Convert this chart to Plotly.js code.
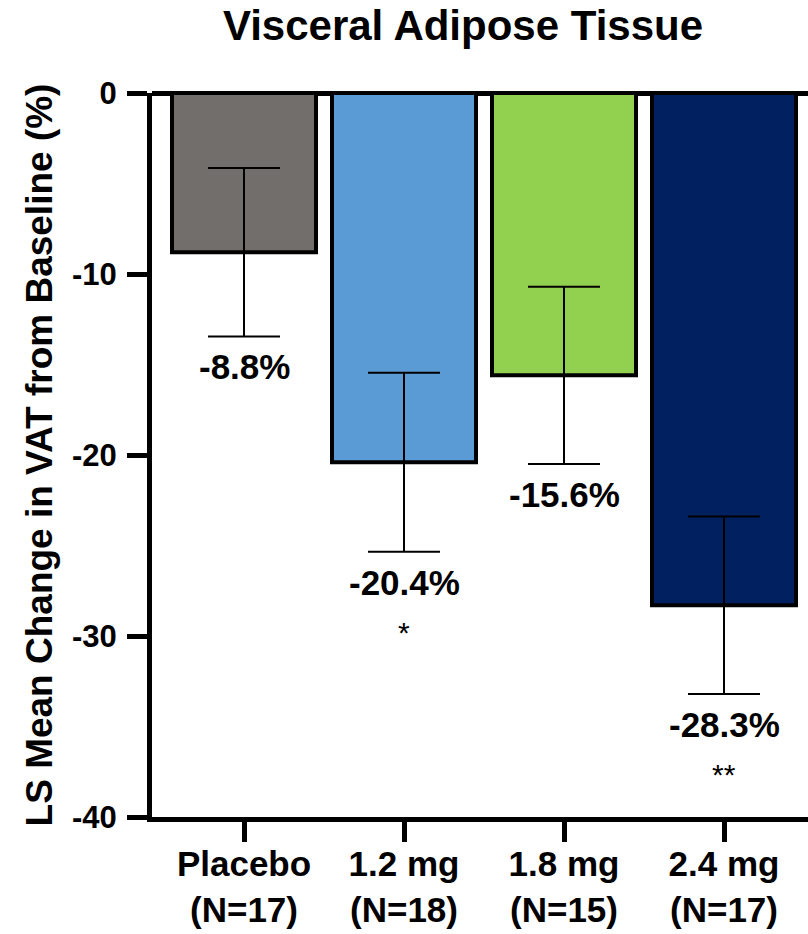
<!DOCTYPE html>
<html>
<head>
<meta charset="utf-8">
<script src="https://cdn.plot.ly/plotly-3.0.1.min.js"></script>
<style>html,body{margin:0;padding:0;background:#fff;}#chart{width:808px;height:934px;}</style>
</head>
<body>
<div id="chart"></div>
<script>
const categories = ['Placebo<br>(N=17)', '1.2 mg<br>(N=18)', '1.8 mg<br>(N=15)', '2.4 mg<br>(N=17)'];
const values = [-8.8, -20.4, -15.6, -28.3];
const errors = [4.65, 4.95, 4.9, 4.9];
const significance = ['', '*', '', '**'];
const barColors = ['#716e6c', '#5b9bd5', '#92d050', '#002060'];
const yTicks = [0, -10, -20, -30, -40];

const FONT = 'Liberation Sans, Arial, Helvetica, sans-serif';

const trace = {
  type: 'bar',
  x: categories,
  y: values,
  width: 0.9,
  marker: { color: barColors, line: { color: '#000', width: 4 } },
  error_y: { type: 'data', array: errors, visible: true, color: '#000', thickness: 2, width: 36 },
  hoverinfo: 'skip'
};

const annotations = [];
categories.forEach((c, i) => {
  annotations.push({
    x: c, y: values[i] - errors[i], xref: 'x', yref: 'y',
    text: values[i].toFixed(1) + '%', showarrow: false,
    yanchor: 'top', yshift: -9,
    font: { family: FONT, size: 35, color: '#000', weight: 'bold' }
  });
  if (significance[i]) {
    annotations.push({
      x: c, y: values[i] - errors[i], xref: 'x', yref: 'y',
      text: significance[i], showarrow: false,
      yanchor: 'top', yshift: -62,
      font: { family: FONT, size: 30, color: '#000' }
    });
  }
});

const layout = {
  width: 808, height: 934,
  margin: { l: 152, r: 0, t: 93, b: 117 },
  paper_bgcolor: '#fff', plot_bgcolor: '#fff',
  showlegend: false,
  title: {
    text: 'Visceral Adipose Tissue',
    xref: 'container', yref: 'container', x: 0.573, xanchor: 'center', y: 0.973, yanchor: 'middle',
    font: { family: FONT, size: 42, color: '#000', weight: 'bold' }
  },
  xaxis: {
    range: [-0.575, 3.525], fixedrange: true,
    showline: true, linecolor: '#000', linewidth: 5,
    ticks: 'outside', ticklen: 20, tickwidth: 5, tickcolor: '#000',
    ticklabelstandoff: -8,
    tickfont: { family: FONT, size: 35, color: '#000', weight: 'bold' },
    showgrid: false, zeroline: false
  },
  yaxis: {
    range: [-40, 0], fixedrange: true,
    tickvals: yTicks, ticktext: yTicks.map(String),
    showline: true, linecolor: '#000', linewidth: 5,
    ticks: 'outside', ticklen: 20, tickwidth: 5, tickcolor: '#000',
    ticklabelstandoff: 4,
    tickfont: { family: FONT, size: 31, color: '#000', weight: 'bold' },
    showgrid: false,
    zeroline: true, zerolinecolor: '#000', zerolinewidth: 5,
    title: { text: 'LS Mean Change in VAT from Baseline (%)', standoff: 10,
      font: { family: FONT, size: 37, color: '#000', weight: 'bold' } }
  },
  annotations: annotations
};

Plotly.newPlot('chart', [trace], layout, { displayModeBar: false, staticPlot: true });
</script>
</body>
</html>
